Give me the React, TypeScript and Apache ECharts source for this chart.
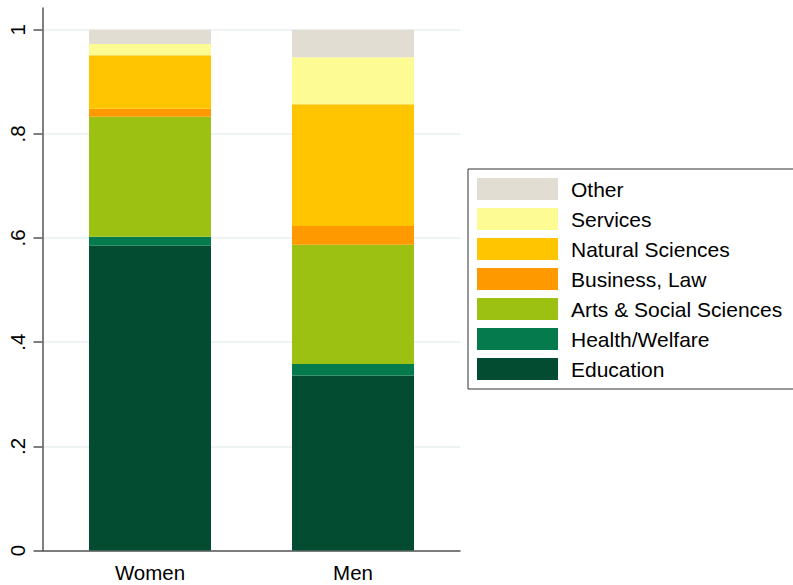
import React, { useEffect, useRef } from "react";
import * as echarts from "echarts";

const categories = ["Women", "Men"];
const fields = [
  "Education",
  "Health/Welfare",
  "Arts & Social Sciences",
  "Business, Law",
  "Natural Sciences",
  "Services",
  "Other",
];
const education = [0.585, 0.336];
const health = [0.0175, 0.022];
const arts = [0.2305, 0.229];
const business = [0.015, 0.036];
const natural = [0.1028, 0.234];
const services = [0.0217, 0.09];
const other = [0.0275, 0.053];
const yTicks = [0, 0.2, 0.4, 0.6, 0.8, 1];
const yTickLabels = ["0", ".2", ".4", ".6", ".8", "1"];
const colors = ["#034b31", "#057b4d", "#9cc112", "#fe9900", "#fec500", "#fcfb94", "#e1ddd3"];

const seriesValues = [education, health, arts, business, natural, services, other];

const FONT = "Liberation Sans, Arial, sans-serif";

export default function App() {
  const ref = useRef<HTMLDivElement>(null);
  useEffect(() => {
    if (!ref.current) return;
    const chart = echarts.init(ref.current, undefined, { renderer: "svg" });
    const top = 29.7;
    const height = 520.8;
    const yMaxExt = (550.5 - 8) / height;
    chart.setOption({
      animation: false,
      backgroundColor: "#ffffff",
      grid: [
        { left: 48.5, width: 406, top, height },
        { left: 42.5, width: 417.5, top, height },
        { left: 42.5, width: 417.5, top: 8, height: 550.5 - 8 },
      ],
      legend: {
        data: [...fields].reverse(),
        orient: "vertical",
        left: 468,
        top: 169,
        padding: [9, 40, 9, 9],
        itemWidth: 81,
        itemHeight: 22,
        itemGap: 8,
        icon: "rect",
        selectedMode: false,
        borderColor: "#333333",
        borderWidth: 1,
        textStyle: {
          fontFamily: FONT,
          fontSize: 21,
          color: "#000",
          lineHeight: 22,
          padding: [0, 0, 0, 8],
        },
      },
      xAxis: [
        {
          type: "category",
          gridIndex: 0,
          data: categories,
          axisLine: { show: false },
          axisTick: { show: false },
          axisLabel: { fontFamily: FONT, fontSize: 20.5, color: "#000", margin: 11 },
          splitLine: { show: false },
        },
        {
          type: "value",
          gridIndex: 1,
          min: 0,
          max: 1,
          axisLine: { show: true, lineStyle: { color: "#555555", width: 1.5 } },
          axisTick: { show: false },
          axisLabel: { show: false },
          splitLine: { show: false },
        },
        {
          type: "value",
          gridIndex: 2,
          min: 0,
          max: 1,
          show: false,
        },
      ],
      yAxis: [
        { type: "value", gridIndex: 0, min: 0, max: 1, show: false },
        {
          type: "value",
          gridIndex: 1,
          min: 0,
          max: 1,
          interval: 0.2,
          axisLine: { show: false },
          axisTick: { show: true, length: 9, lineStyle: { color: "#555555", width: 1.5 } },
          axisLabel: {
            rotate: 90,
            margin: 15,
            fontFamily: FONT,
            fontSize: 20.5,
            color: "#000",
            formatter: (v: number) => {
              const i = yTicks.findIndex((t) => Math.abs(t - v) < 1e-6);
              return i >= 0 ? yTickLabels[i] : "";
            },
          },
          splitLine: { show: true, lineStyle: { color: "#e8eff1", width: 1.5 } },
        },
        {
          type: "value",
          gridIndex: 2,
          min: 0,
          max: yMaxExt,
          axisLine: { show: true, lineStyle: { color: "#555555", width: 1.5 } },
          axisTick: { show: false },
          axisLabel: { show: false },
          splitLine: { show: false },
        },
      ],
      series: fields.map((name, i) => ({
        name,
        type: "bar",
        stack: "total",
        xAxisIndex: 0,
        yAxisIndex: 0,
        barWidth: 122,
        data: seriesValues[i],
        itemStyle: { color: colors[i] },
        z: 3,
      })),
    });
    return () => chart.dispose();
  }, []);
  return (
    <div
      ref={ref}
      style={{ position: "fixed", left: 0, top: 0, width: 793, height: 585 }}
    />
  );
}
